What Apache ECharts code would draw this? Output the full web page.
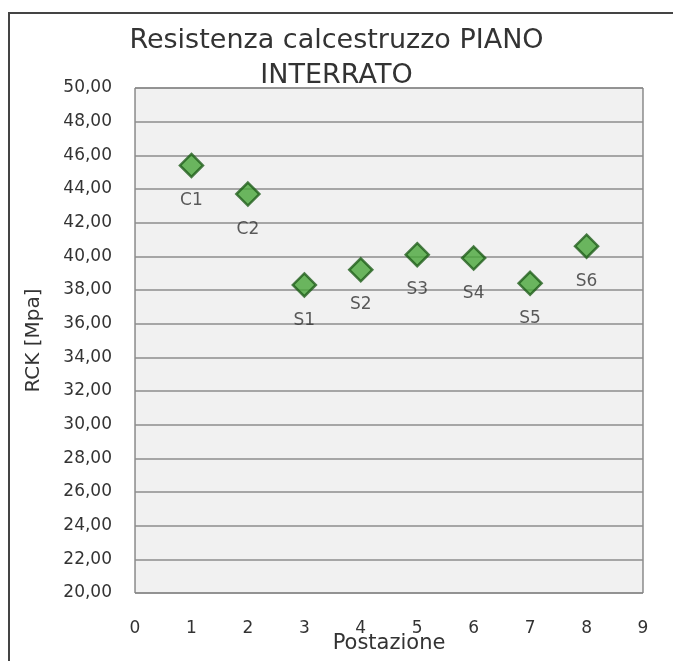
<!DOCTYPE html>
<html>
<head>
<meta charset="utf-8">
<script src="https://cdn.jsdelivr.net/npm/echarts@6/dist/echarts.min.js"></script>
<style>
  html, body { margin: 0; padding: 0; background: #fff; }
  #main { width: 673px; height: 661px; }
</style>
</head>
<body>
<div id="main"></div>
<script>
// dati
const postazioni = [1, 2, 3, 4, 5, 6, 7, 8];
const etichette = ['C1', 'C2', 'S1', 'S2', 'S3', 'S4', 'S5', 'S6'];
const rck = [45.4, 43.7, 38.3, 39.2, 40.1, 39.9, 38.4, 40.6];

const font = 'DejaVu Sans';
const testo = '#333';

const MyChart = echarts.init(document.getElementById('main'));

let option = {
  backgroundColor: '#fff',
  title: {
    text: 'Resistenza calcestruzzo PIANO\nINTERRATO',
    left: 'center',
    top: 18,
    textStyle: { fontFamily: font, fontSize: 27, fontWeight: 'normal', color: testo, lineHeight: 35 }
  },
  graphic: [{
    type: 'rect',
    shape: { x: 9, y: 13, width: 700, height: 700 },
    style: { fill: 'none', stroke: '#444', lineWidth: 2 },
    silent: true,
    z: 100
  }],
  grid: {
    left: 135, right: 30, top: 88, bottom: 68,
    outerBoundsMode: 'none',
    show: true, backgroundColor: '#f1f1f1', borderColor: '#555', borderWidth: 1
  },
  xAxis: {
    type: 'value',
    min: 0, max: 9, interval: 1,
    name: 'Postazione',
    nameLocation: 'middle',
    nameGap: 40,
    nameMoveOverlap: false,
    nameTextStyle: { fontFamily: font, fontSize: 21, color: testo },
    axisLine: { show: false },
    axisTick: { show: false },
    splitLine: { show: false },
    axisLabel: { fontFamily: font, fontSize: 17, color: testo, margin: 27 }
  },
  yAxis: {
    type: 'value',
    min: 20, max: 50, interval: 2,
    name: 'RCK [Mpa]',
    nameLocation: 'middle',
    nameGap: 91,
    nameTextStyle: { fontFamily: font, fontSize: 20, color: testo },
    axisLine: { show: false },
    axisTick: { show: false },
    splitLine: { lineStyle: { color: '#8c8c8c', width: 1.5 } },
    axisLabel: {
      fontFamily: font, fontSize: 17, color: testo, margin: 23,
      formatter: v => v.toFixed(2).replace('.', ',')
    }
  },
  series: [{
    type: 'scatter',
    symbol: 'diamond',
    symbolSize: 23,
    data: postazioni.map((x, i) => ({ value: [x, rck[i]], name: etichette[i] })),
    itemStyle: { color: '#48a63a', borderColor: '#1f5e1a', borderWidth: 2.5 },
    label: {
      show: true,
      position: 'bottom',
      distance: 14,
      formatter: p => p.name,
      fontFamily: font, fontSize: 17, color: testo
    }
  }]
};

MyChart.setOption(option);
</script>
</body>
</html>
